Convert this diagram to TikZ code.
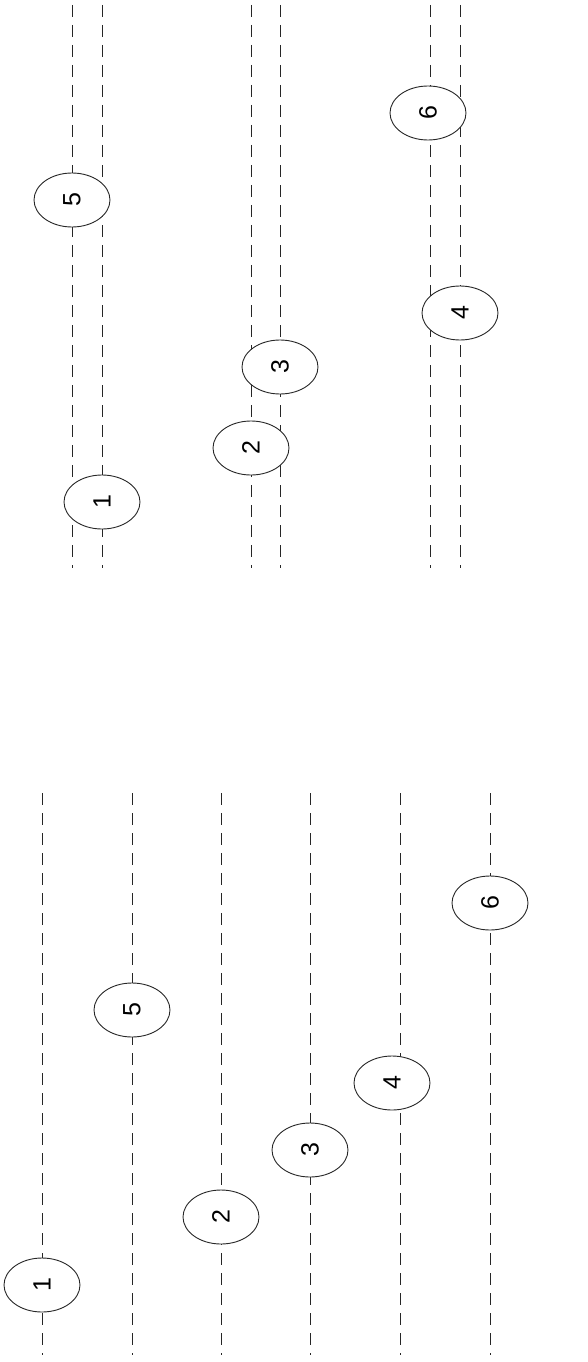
\documentclass[tikz,border=0pt]{standalone}
\usepackage{fontspec}
\setmainfont{Liberation Sans}
\usetikzlibrary{shapes.geometric}
\tikzset{
  guide/.style={draw=black!85, line width=0.9pt, dash pattern=on 12pt off 8pt},
  tag/.style={ellipse, draw=black!85, line width=0.9pt, fill=white, minimum width=76pt, minimum height=54pt, inner sep=0pt, font=\fontsize{25}{28}\selectfont},
  lbl/.style={rotate=90}
}
\begin{document}
\begin{tikzpicture}[x=1pt, y=-1pt]
\useasboundingbox (0,0) rectangle (587,1362);
% top group endpoints
\foreach \n/\x in {a/72, b/102, c/251, d/280, e/430, f/460}{
  \coordinate (t\n s) at (\x,5);
  \coordinate (t\n e) at (\x,568);
}
% bottom group endpoints
\foreach \n/\x in {a/42, b/132, c/221, d/310, e/400, f/490}{
  \coordinate (b\n s) at (\x,793);
  \coordinate (b\n e) at (\x,1355);
}
\foreach \n in {a,b,c,d,e,f}{
  \draw[guide] (t\n s) -- (t\n e);
  \draw[guide] (b\n s) -- (b\n e);
}
% top group tags
\node[tag] (T5) at (72,200) {\rotatebox{90}{5}};
\node[tag] (T6) at (428,113) {\rotatebox{90}{6}};
\node[tag] (T4) at (460,313) {\rotatebox{90}{4}};
\node[tag] (T3) at (280,367) {\rotatebox{90}{3}};
\node[tag] (T2) at (251,448) {\rotatebox{90}{2}};
\node[tag] (T1) at (102,502) {\rotatebox{90}{1}};
% bottom group tags
\node[tag] (B6) at (490,903) {\rotatebox{90}{6}};
\node[tag] (B5) at (132,1010) {\rotatebox{90}{5}};
\node[tag] (B4) at (392,1083) {\rotatebox{90}{4}};
\node[tag] (B3) at (310,1150) {\rotatebox{90}{3}};
\node[tag] (B2) at (221,1217) {\rotatebox{90}{2}};
\node[tag] (B1) at (42,1285) {\rotatebox{90}{1}};
\end{tikzpicture}
\end{document}
